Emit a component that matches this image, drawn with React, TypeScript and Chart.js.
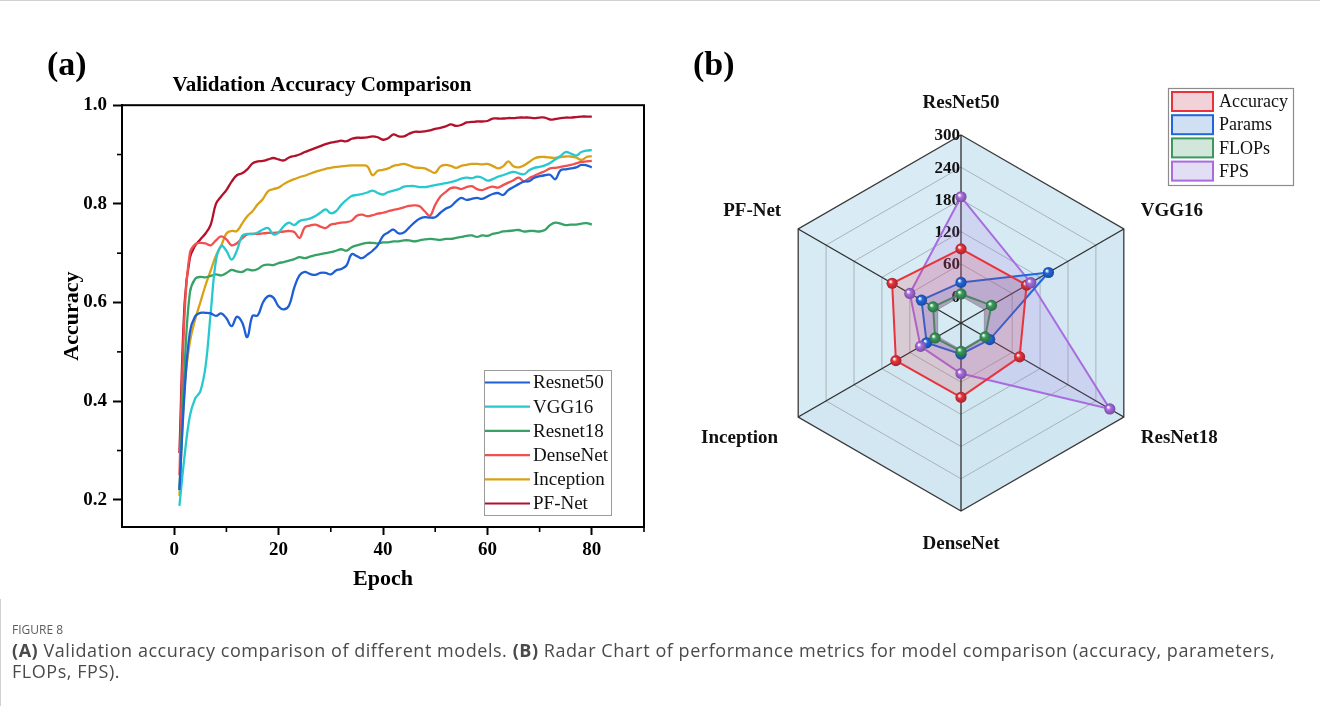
import React, { useEffect, useRef } from "react";
import { Chart, registerables } from "chart.js";

Chart.register(...registerables);

// ---------------- Panel (a): validation accuracy ----------------
const epochs: number[] = Array.from({ length: 80 }, (_, i) => i + 1);

const resnet50Acc = [
  0.22, 0.42, 0.54, 0.572, 0.579, 0.579, 0.578, 0.573, 0.578, 0.568,
  0.552, 0.571, 0.56, 0.53, 0.573, 0.574, 0.6, 0.613, 0.61, 0.592,
  0.586, 0.594, 0.63, 0.655, 0.662, 0.658, 0.656, 0.66, 0.66, 0.657,
  0.665, 0.668, 0.675, 0.698, 0.694, 0.69, 0.697, 0.705, 0.716, 0.735,
  0.742, 0.748, 0.74, 0.742, 0.752, 0.762, 0.77, 0.773, 0.772, 0.773,
  0.782, 0.79, 0.795, 0.805, 0.812, 0.808, 0.81, 0.812, 0.81, 0.815,
  0.82, 0.822, 0.818, 0.828, 0.834, 0.84, 0.845, 0.846, 0.853, 0.856,
  0.858, 0.859, 0.85, 0.868, 0.87, 0.872, 0.874, 0.879, 0.878, 0.874,
];
const vgg16Acc = [
  0.188, 0.29, 0.37, 0.405, 0.42, 0.47, 0.58, 0.685, 0.715, 0.705,
  0.687, 0.705, 0.735, 0.739, 0.739, 0.742, 0.748, 0.751, 0.738, 0.742,
  0.755, 0.762, 0.757, 0.765, 0.768, 0.77, 0.775, 0.782, 0.789, 0.781,
  0.785, 0.798, 0.808, 0.816, 0.818, 0.82, 0.823, 0.827, 0.822, 0.819,
  0.824, 0.827, 0.83, 0.835, 0.836, 0.836, 0.834, 0.834, 0.836, 0.838,
  0.84, 0.842, 0.844, 0.847, 0.851, 0.853, 0.852, 0.855, 0.853, 0.847,
  0.85, 0.855, 0.858, 0.862, 0.865, 0.862, 0.86, 0.868, 0.873, 0.875,
  0.878, 0.883, 0.89, 0.897, 0.905, 0.902, 0.898, 0.905, 0.908, 0.909,
];
const resnet18Acc = [
  0.22, 0.47, 0.62, 0.648, 0.652, 0.651, 0.654, 0.657, 0.655, 0.66,
  0.666, 0.663, 0.662, 0.667, 0.665, 0.668, 0.675, 0.677, 0.676, 0.68,
  0.682, 0.685, 0.688, 0.692, 0.69, 0.693, 0.696, 0.698, 0.7, 0.702,
  0.705, 0.708, 0.705, 0.712, 0.716, 0.719, 0.721, 0.721, 0.72, 0.722,
  0.722, 0.724, 0.724, 0.726, 0.726, 0.724, 0.726, 0.728, 0.729, 0.728,
  0.727, 0.729, 0.729, 0.731, 0.733, 0.735, 0.736, 0.733, 0.736, 0.735,
  0.739, 0.741, 0.744, 0.745, 0.746, 0.747, 0.744, 0.745, 0.745, 0.744,
  0.747, 0.757, 0.762, 0.76, 0.757, 0.758, 0.758, 0.76, 0.761, 0.758,
];
const denseNetAcc = [
  0.25, 0.58, 0.7, 0.718, 0.721, 0.72, 0.716, 0.726, 0.734, 0.728,
  0.716, 0.72, 0.73, 0.738, 0.739, 0.739, 0.74, 0.741, 0.741, 0.742,
  0.744, 0.745, 0.743, 0.731, 0.752, 0.756, 0.758, 0.754, 0.751, 0.758,
  0.76, 0.762, 0.763, 0.766, 0.776, 0.778, 0.775, 0.777, 0.78, 0.782,
  0.785, 0.788, 0.79, 0.793, 0.796, 0.797, 0.795, 0.785, 0.776, 0.798,
  0.815, 0.824, 0.832, 0.833, 0.83, 0.834, 0.836, 0.83, 0.828, 0.832,
  0.835, 0.833, 0.838, 0.843, 0.848, 0.853, 0.846, 0.852, 0.857, 0.862,
  0.866, 0.872, 0.873, 0.875, 0.877, 0.879, 0.882, 0.885, 0.886, 0.887,
];
const inceptionAcc = [
  0.208, 0.43, 0.52, 0.565, 0.6, 0.635, 0.665, 0.695, 0.715, 0.74,
  0.745, 0.745, 0.76, 0.775, 0.785, 0.799, 0.81, 0.826, 0.83, 0.833,
  0.84, 0.846, 0.85, 0.854, 0.857, 0.861, 0.865, 0.868, 0.871, 0.873,
  0.875, 0.876, 0.877, 0.878, 0.878, 0.878, 0.876, 0.858, 0.867, 0.869,
  0.872, 0.877, 0.879, 0.881, 0.878, 0.874, 0.873, 0.872, 0.867, 0.863,
  0.876, 0.879, 0.877, 0.873, 0.877, 0.879, 0.881, 0.881, 0.88, 0.881,
  0.877, 0.872, 0.876, 0.886, 0.876, 0.874, 0.878, 0.885, 0.892, 0.895,
  0.895, 0.894, 0.893, 0.895, 0.896, 0.896, 0.894, 0.889, 0.895, 0.897,
];
const pfNetAcc = [
  0.295, 0.6, 0.69, 0.715, 0.728, 0.74, 0.758, 0.8, 0.815, 0.828,
  0.845, 0.858, 0.862, 0.87, 0.882, 0.886, 0.887, 0.89, 0.893, 0.89,
  0.888, 0.894, 0.897, 0.9, 0.905, 0.909, 0.913, 0.917, 0.921, 0.924,
  0.926, 0.928, 0.927, 0.932, 0.934, 0.934, 0.935, 0.937, 0.935, 0.93,
  0.933, 0.941, 0.937, 0.937, 0.942, 0.946, 0.946, 0.947, 0.949, 0.952,
  0.954, 0.957, 0.961, 0.958, 0.96, 0.965, 0.966, 0.967, 0.967, 0.968,
  0.973, 0.973, 0.973, 0.974, 0.974, 0.975, 0.975, 0.975, 0.974, 0.975,
  0.975, 0.971, 0.972, 0.974, 0.975, 0.975, 0.976, 0.977, 0.977, 0.977,
];

const lineNames = ["Resnet50", "VGG16", "Resnet18", "DenseNet", "Inception", "PF-Net"];
const lineValues = [resnet50Acc, vgg16Acc, resnet18Acc, denseNetAcc, inceptionAcc, pfNetAcc];
const lineColors = ["#1f5fd6", "#27c9cf", "#36a266", "#f0514f", "#d9a116", "#b3112b"];

const xMajorTicks = [0, 20, 40, 60, 80];
const xMinorTicks = [10, 30, 50, 70, 90];
const yMajorTicks = [0.2, 0.4, 0.6, 0.8, 1.0];
const yMinorTicks = [0.3, 0.5, 0.7, 0.9];

// ---------------- Panel (b): radar ----------------
const radarAxes = ["ResNet50", "VGG16", "ResNet18", "DenseNet", "Inception", "PF-Net"];
const accuracyVals = [88, 91, 76, 88.5, 90, 98];
const paramsVals = [25.6, 138, 11.7, 8, 23.8, 35];
const flopsVals = [4.1, 15.5, 1.8, 2.9, 5.7, 10];
const fpsVals = [185, 100, 270, 44, 37, 60];
const radarNames = ["Accuracy", "Params", "FLOPs", "FPS"];
const radarColors = ["#e8323c", "#2266dd", "#3a9a5c", "#a86ce0"];
const radarFills = [
  "rgba(232,50,60,0.17)",
  "rgba(34,102,221,0.15)",
  "rgba(58,154,92,0.18)",
  "rgba(168,108,224,0.16)",
];
const radarSwatchFills = ["#f1d2d8", "#cfe0f2", "#d3e6dc", "#e2def4"];
const radarTickLabels = [0, 60, 120, 180, 240, 300];

const SERIF = '"Liberation Serif", "Times New Roman", serif';

function shade(hex: string, f: number) {
  const n = parseInt(hex.slice(1), 16);
  const r = Math.round(((n >> 16) & 255) * f);
  const g = Math.round(((n >> 8) & 255) * f);
  const b = Math.round((n & 255) * f);
  return `rgb(${r},${g},${b})`;
}

function LineChart() {
  const ref = useRef<HTMLCanvasElement>(null);
  useEffect(() => {
    const canvas = ref.current!;
    const decor = {
      id: "lineDecor",
      afterDraw(chart: any) {
        const { ctx, chartArea: a, scales } = chart;
        ctx.save();
        ctx.strokeStyle = "#000";
        ctx.lineWidth = 2;
        ctx.strokeRect(a.left, a.top, a.right - a.left, a.bottom - a.top);
        ctx.lineWidth = 1.6;
        xMinorTicks.forEach((v) => {
          const x = scales.x.getPixelForValue(v);
          ctx.beginPath();
          ctx.moveTo(x, a.bottom);
          ctx.lineTo(x, a.bottom + 5);
          ctx.stroke();
        });
        yMinorTicks.forEach((v) => {
          const y = scales.y.getPixelForValue(v);
          ctx.beginPath();
          ctx.moveTo(a.left, y);
          ctx.lineTo(a.left - 5, y);
          ctx.stroke();
        });
        // legend
        const bx = a.right - 160;
        const by = a.bottom - 157;
        const bw = 127;
        const bh = 145;
        ctx.fillStyle = "#fff";
        ctx.fillRect(bx, by, bw, bh);
        ctx.strokeStyle = "#9a9a9a";
        ctx.lineWidth = 1;
        ctx.strokeRect(bx + 0.5, by + 0.5, bw, bh);
        ctx.font = `19px ${SERIF}`;
        ctx.textBaseline = "middle";
        ctx.textAlign = "left";
        chart.data.datasets.forEach((ds: any, i: number) => {
          const y = by + 12.5 + i * 24.2;
          ctx.strokeStyle = ds.borderColor;
          ctx.lineWidth = 2.2;
          ctx.beginPath();
          ctx.moveTo(bx + 1, y);
          ctx.lineTo(bx + 46, y);
          ctx.stroke();
          ctx.fillStyle = "#111";
          ctx.fillText(ds.label, bx + 49, y + 1);
        });
        ctx.restore();
      },
    };
    const chart = new Chart(canvas, {
      type: "line",
      data: {
        datasets: lineNames.map((name, k) => ({
          label: name,
          data: lineValues[k].map((v, i) => ({ x: epochs[i], y: v })),
          borderColor: lineColors[k],
          backgroundColor: lineColors[k],
          borderWidth: 2.3,
          pointRadius: 0,
          tension: 0.4,
          fill: false,
        })),
      },
      options: {
        animation: false,
        responsive: false,
        maintainAspectRatio: false,
        layout: { padding: { left: 0, right: 16, top: 72, bottom: 0 } },
        plugins: {
          legend: { display: false },
          tooltip: { enabled: false },
          title: {
            display: true,
            text: "Validation Accuracy Comparison",
            color: "#000",
            font: { family: SERIF, size: 21, weight: "bold" },
            padding: { top: 0, bottom: 7 },
          },
        },
        scales: {
          x: {
            type: "linear",
            min: -10,
            max: 90,
            afterFit(s: any) {
              s.height = 74;
            },
            afterBuildTicks(s: any) {
              s.ticks = xMajorTicks.map((v) => ({ value: v }));
            },
            border: { display: true, color: "#000", width: 2 },
            grid: { drawOnChartArea: false, drawTicks: true, tickLength: 8, tickWidth: 2, tickColor: "#000" },
            ticks: {
              color: "#000",
              padding: 4,
              font: { family: SERIF, size: 19, weight: "bold" },
              callback: (v: any) => String(v),
            },
            title: {
              display: true,
              text: "Epoch",
              color: "#000",
              font: { family: SERIF, size: 22, weight: "bold" },
              padding: { top: 0, bottom: 8 },
            },
          },
          y: {
            type: "linear",
            min: 0.145,
            max: 1.0,
            afterFit(s: any) {
              s.width = 122;
            },
            afterBuildTicks(s: any) {
              s.ticks = yMajorTicks.map((v) => ({ value: v }));
            },
            border: { display: true, color: "#000", width: 2 },
            grid: { drawOnChartArea: false, drawTicks: true, tickLength: 9, tickWidth: 2, tickColor: "#000" },
            ticks: {
              color: "#000",
              padding: 6,
              font: { family: SERIF, size: 19, weight: "bold" },
              callback: (v: any) => Number(v).toFixed(1),
            },
            title: {
              display: true,
              text: "Accuracy",
              color: "#000",
              font: { family: SERIF, size: 22, weight: "bold" },
              padding: { top: 59, bottom: 0 },
            },
          },
        },
      },
      plugins: [decor],
    } as any);
    return () => chart.destroy();
  }, []);
  return (
    <canvas
      ref={ref}
      width={660}
      height={600}
      style={{ position: "absolute", left: 0, top: 0, width: 660, height: 600 }}
    />
  );
}

function RadarChart() {
  const ref = useRef<HTMLCanvasElement>(null);
  useEffect(() => {
    const canvas = ref.current!;
    const sectorColors = ["#d6eaf4", "#d3e8f3", "#d0e6f1", "#d2e7f2", "#d6ebf3", "#d9ecf5"];
    const decor = {
      id: "radarDecor",
      beforeDraw(chart: any) {
        const s = chart.scales.r;
        const { ctx } = chart;
        const n = radarAxes.length;
        ctx.save();
        for (let i = 0; i < n; i++) {
          const p1 = s.getPointPositionForValue(i, 300);
          const p2 = s.getPointPositionForValue((i + 1) % n, 300);
          ctx.beginPath();
          ctx.moveTo(s.xCenter, s.yCenter);
          ctx.lineTo(p1.x, p1.y);
          ctx.lineTo(p2.x, p2.y);
          ctx.closePath();
          ctx.fillStyle = sectorColors[i];
          ctx.fill();
        }
        ctx.restore();
      },
      beforeDatasetsDraw(chart: any) {
        const s = chart.scales.r;
        const { ctx } = chart;
        ctx.save();
        ctx.font = `bold 17px ${SERIF}`;
        ctx.fillStyle = "#111";
        ctx.textAlign = "right";
        ctx.textBaseline = "middle";
        radarTickLabels.forEach((v) => {
          const d = s.getDistanceFromCenterForValue(v);
          ctx.fillText(String(v), s.xCenter - 1, s.yCenter - d + 1);
        });
        ctx.restore();
      },
      afterDatasetsDraw(chart: any) {
        const s = chart.scales.r;
        const { ctx } = chart;
        ctx.save();
        // spheres
        chart.data.datasets.forEach((ds: any, di: number) => {
          const meta = chart.getDatasetMeta(di);
          const col = radarColors[di];
          meta.data.forEach((pt: any) => {
            const x = pt.x;
            const y = pt.y;
            const g = ctx.createRadialGradient(x - 1.8, y - 1.8, 0.4, x, y, 5.8);
            g.addColorStop(0, "#ffffff");
            g.addColorStop(0.35, col);
            g.addColorStop(1, shade(col, 0.7));
            ctx.beginPath();
            ctx.arc(x, y, 5.6, 0, Math.PI * 2);
            ctx.fillStyle = g;
            ctx.fill();
          });
        });
        // point labels
        ctx.font = `bold 19px ${SERIF}`;
        ctx.fillStyle = "#111";
        ctx.textBaseline = "middle";
        const offs = [
          { dx: 0, dy: -32, align: "center" },
          { dx: 17, dy: -18, align: "left" },
          { dx: 17, dy: 21, align: "left" },
          { dx: 0, dy: 33, align: "center" },
          { dx: -20, dy: 21, align: "right" },
          { dx: -17, dy: -18, align: "right" },
        ];
        radarAxes.forEach((lab, i) => {
          const p = s.getPointPositionForValue(i, 300);
          ctx.textAlign = offs[i].align;
          ctx.fillText(lab, p.x + offs[i].dx, p.y + offs[i].dy);
        });
        // legend
        const bx = 488;
        const by = 87;
        ctx.fillStyle = "#fff";
        ctx.fillRect(bx, by, 125, 97);
        ctx.strokeStyle = "#8c8c8c";
        ctx.lineWidth = 1.2;
        ctx.strokeRect(bx + 0.5, by + 0.5, 125, 97);
        ctx.font = `18px ${SERIF}`;
        ctx.textAlign = "left";
        radarNames.forEach((name, i) => {
          const y = by + 4 + i * 23.2;
          ctx.fillStyle = radarSwatchFills[i];
          ctx.fillRect(bx + 4, y, 41, 19);
          ctx.strokeStyle = radarColors[i];
          ctx.lineWidth = 2;
          ctx.strokeRect(bx + 4, y, 41, 19);
          ctx.fillStyle = "#111";
          ctx.fillText(name, bx + 51, y + 10.5);
        });
        ctx.restore();
      },
    };
    const series = [accuracyVals, paramsVals, flopsVals, fpsVals];
    const chart = new Chart(canvas, {
      type: "radar",
      data: {
        labels: radarAxes,
        datasets: radarNames.map((name, k) => ({
          label: name,
          data: series[k],
          borderColor: radarColors[k],
          backgroundColor: radarFills[k],
          borderWidth: 2,
          pointRadius: 0,
          fill: true,
        })),
      },
      options: {
        animation: false,
        responsive: false,
        maintainAspectRatio: false,
        layout: { padding: { left: 93, right: 171, top: 134, bottom: 90 } },
        plugins: { legend: { display: false }, tooltip: { enabled: false } },
        scales: {
          r: {
            min: -50,
            max: 300,
            ticks: { display: false, stepSize: 60 },
            pointLabels: { display: false },
            grid: {
              color: (c: any) => (c.tick && c.tick.value === 300 ? "#3a3a3a" : "#a9b4ba"),
              lineWidth: (c: any) => (c.tick && c.tick.value === 300 ? 1.3 : 1),
            },
            angleLines: { color: "#2d2d2d", lineWidth: 1.3 },
          },
        },
      },
      plugins: [decor],
    } as any);
    return () => chart.destroy();
  }, []);
  return (
    <canvas
      ref={ref}
      width={640}
      height={600}
      style={{ position: "absolute", left: 680, top: 0, width: 640, height: 600 }}
    />
  );
}

export default function App() {
  return (
    <div
      style={{
        position: "absolute",
        left: 0,
        top: 0,
        width: 1320,
        height: 706,
        background: "#fff",
        overflow: "hidden",
        borderTop: "1px solid #d0d0d0",
        boxSizing: "border-box",
      }}
    >
      <LineChart />
      <RadarChart />
      <div
        style={{
          position: "absolute",
          left: 47,
          top: 44,
          font: `bold 34px ${SERIF}`,
          color: "#000",
          lineHeight: "38px",
        }}
      >
        (a)
      </div>
      <div
        style={{
          position: "absolute",
          left: 693,
          top: 44,
          font: `bold 34px ${SERIF}`,
          color: "#000",
          lineHeight: "38px",
        }}
      >
        (b)
      </div>
      <div style={{ position: "absolute", left: 0, top: 598, width: 1, height: 108, background: "#d0d0d0" }} />
      <div
        style={{
          position: "absolute",
          left: 12,
          top: 621,
          font: '12px "Open Sans", sans-serif',
          color: "#5c5c5c",
          lineHeight: "16px",
        }}
      >
        FIGURE 8
      </div>
      <div
        style={{
          position: "absolute",
          left: 12,
          top: 639,
          font: '18px "Open Sans", sans-serif',
          letterSpacing: "0.55px",
          color: "#4a4a4a",
          lineHeight: "21px",
          whiteSpace: "nowrap",
        }}
      >
        <b>(A)</b> Validation accuracy comparison of different models. <b>(B)</b> Radar Chart of performance metrics
        for model comparison (accuracy, parameters,
        <br />
        FLOPs, FPS).
      </div>
    </div>
  );
}
